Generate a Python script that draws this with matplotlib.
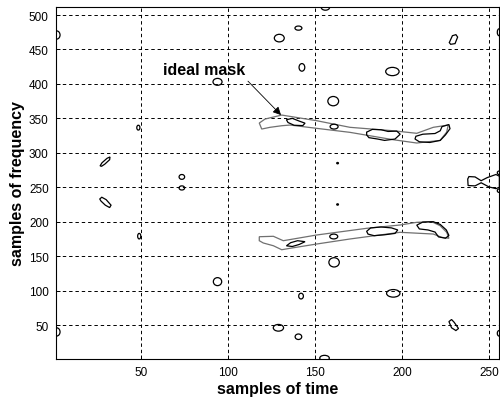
import matplotlib
matplotlib.use('Agg')
import matplotlib.pyplot as plt
from matplotlib.patches import Polygon, Ellipse

plt.rcParams['font.family'] = ['Liberation Sans', 'DejaVu Sans']

# ---------------- axes ----------------
XTICKS = [50, 100, 150, 200, 250]
YTICKS = [50, 100, 150, 200, 250, 300, 350, 400, 450, 500]
XMAX, YMAX = 256, 512

# ---------------- ideal mask outlines (time, freq) ----------------
ideal_up_x = [118.0, 121.3, 130.9, 151.0, 170.1, 195.0, 208.5, 218.0, 226.6,
              225.7, 221.9, 208.5, 195.0, 170.1, 151.0, 135.7, 130.9, 124.2, 119.4]
ideal_up_y = [343.2, 349.0, 354.8, 346.6, 337.0, 332.0, 328.3, 337.0, 340.3,
              330.0, 318.0, 314.2, 319.0, 329.7, 335.5, 340.3, 339.3, 337.0, 334.5]

ideal_lo_x = [118.0, 126.1, 131.8, 151.0, 179.7, 198.9, 208.5, 217.1, 221.9, 225.7,
              227.0, 222.8, 218.0, 198.9, 170.1, 151.0, 135.7, 130.9, 126.1, 120.3, 118.0]
ideal_lo_y = [178.2, 178.8, 172.4, 180.7, 190.4, 195.2, 199.1, 200.0, 194.2, 184.6,
              175.9, 177.3, 182.1, 184.6, 174.9, 167.6, 161.4, 159.3, 165.1, 169.1, 172.4]

# ---------------- estimated mask contours, irregular pieces ----------------
est_shapes = [
    # upper track
    ([133.6, 137, 141, 144.3, 143, 138, 134.5],
     [348, 350, 346, 343, 339.5, 340, 344]),
    ([179.7, 183, 188, 192, 197, 199, 196, 190, 186, 181, 179.7],
     [330, 334, 333.5, 331, 331.5, 327, 320, 318, 320, 322, 326]),
    ([207.5, 210, 216, 222, 225, 227.6, 227, 223, 222, 219, 212, 208],
     [320, 316, 315, 318, 326, 335, 341, 338, 332, 328, 327, 324]),
    # lower track
    ([133.6, 137, 141, 144.3, 140, 136],
     [165, 164, 167, 171, 172.4, 169.5]),
    ([179.7, 182, 188, 194, 197.6, 196, 190, 184, 180.5],
     [186, 191, 192.3, 191, 188, 183, 181, 179.7, 182]),
    ([208.5, 212, 218, 222, 225.5, 227, 225, 221, 219, 215, 210],
     [195, 199.5, 200, 196, 188, 180, 176, 178, 185, 188, 189.5]),
    # tilted spots
    ([26.5, 27.6, 30.5, 32.2, 32.0, 29.2, 27.4],
     [281, 285.5, 292, 294, 290, 283.5, 280.5]),
    ([26.3, 27.5, 30.0, 32.8, 32.0, 29.5, 27.0],
     [233, 235.5, 232, 224, 220.5, 224, 230]),
    ([227.2, 229, 231, 232, 230.5, 228],
     [460, 470, 471.5, 468, 458.5, 457.5]),
    ([227, 228.5, 230, 232.5, 231, 228.5],
     [55, 58, 54, 45, 42, 46]),
    ([237.8, 238.5, 242, 245.5, 249, 254, 256, 256, 254, 250, 245.5, 242, 238],
     [262, 265.5, 265, 259.5, 264, 268.5, 266, 250, 248, 250.5, 256.5, 252, 252.5]),
]

# ---------------- estimated mask contours, small spots ----------------
spot_x = [1.5, 1.5, 94, 48.5, 49, 94, 140.5, 129.5, 142.5, 194.5, 160.5, 161, 142,
          195, 129, 140.5, 156, 155.5, 73.5, 73.5, 161, 160.8, 163, 163, 255.8, 255.8,
          255.8, 255.8]
spot_y = [471, 40, 403, 336.5, 179, 113, 481, 466.5, 424, 418, 375, 141, 92,
          96, 46, 33, 511, 2, 265, 249, 338, 178.5, 285, 225, 475, 38, 271, 245]
spot_w = [4, 4, 5.2, 1.8, 1.8, 4.8, 4, 5.7, 3.3, 7.7, 6.2, 6.0, 2.7,
          7.7, 5.9, 3.8, 4.8, 5.5, 3.2, 3.2, 4.6, 4.6, 1.0, 1.0, 2, 2, 2, 2]
spot_h = [12, 12, 10, 7, 8, 11.6, 6, 11, 11, 12, 13.5, 13.5, 8.3,
          11, 9.7, 8, 8, 8, 7, 6, 7, 7, 2, 2, 10, 8, 5, 5]

fig = plt.figure(figsize=(5.0, 4.02), dpi=100)
ax = fig.add_axes([0.1114, 0.105, 0.8874, 0.8757])

for xs, ys in [(ideal_up_x, ideal_up_y), (ideal_lo_x, ideal_lo_y)]:
    ax.add_patch(Polygon(list(zip(xs, ys)), closed=True, fill=False,
                         ec='#707070', lw=0.9, zorder=3))

for xs, ys in est_shapes:
    ax.add_patch(Polygon(list(zip(xs, ys)), closed=True, fill=False,
                         ec='black', lw=0.9, zorder=4))

for cx, cy, w, h in zip(spot_x, spot_y, spot_w, spot_h):
    ax.add_patch(Ellipse((cx, cy), w, h, fill=False, ec='black', lw=0.9, zorder=4))

ax.set_xlim(1, XMAX)
ax.set_ylim(1, YMAX)
ax.set_xticks(XTICKS)
ax.set_yticks(YTICKS)
ax.grid(True, color='black', linestyle=(0, (3.5, 3)), lw=0.7)
ax.tick_params(direction='in', length=3, width=0.7, labelsize=8.5, colors='black')
ax.tick_params(axis='x', pad=5)
ax.tick_params(axis='y', pad=5)
for s in ax.spines.values():
    s.set_linewidth(0.8)

ax.set_xlabel('samples of time', fontsize=11.5, fontweight='bold', labelpad=2)
ax.set_ylabel('samples of frequency', fontsize=11.5, fontweight='bold', labelpad=3)

ax.text(62.7, 414.4, 'ideal mask', fontsize=11.5, fontweight='bold', va='baseline', ha='left')
ax.annotate('', xy=(130.5, 354.8), xytext=(111.5, 404),
            arrowprops=dict(arrowstyle='-|>', color='black', lw=0.6, mutation_scale=12,
                            shrinkA=0, shrinkB=0))

fig.savefig('out.png', dpi=100)
